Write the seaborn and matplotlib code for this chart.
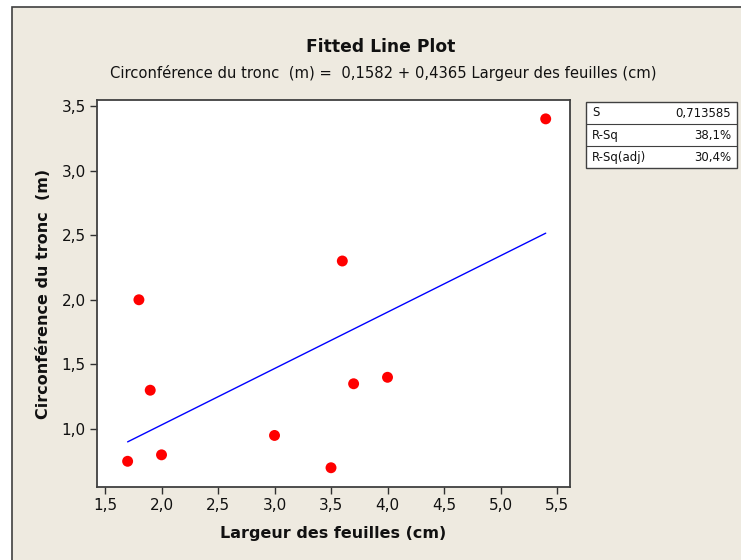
import matplotlib
matplotlib.use("Agg")
import matplotlib.pyplot as plt
from matplotlib.patches import Rectangle
from matplotlib.lines import Line2D
import numpy as np
import pandas as pd
import seaborn as sns

# Observations
largeur = [1.7, 1.8, 1.9, 2.0, 3.0, 3.5, 3.6, 3.7, 4.0, 5.4]
circonference = [0.75, 2.0, 1.3, 0.8, 0.95, 0.7, 2.3, 1.35, 1.4, 3.4]

# Regression results
intercept = 0.1582
slope = 0.4365
stats_labels = ["S", "R-Sq", "R-Sq(adj)"]
stats_values = ["0,713585", "38,1%", "30,4%"]

x_ticks = [1.5, 2.0, 2.5, 3.0, 3.5, 4.0, 4.5, 5.0, 5.5]
y_ticks = [1.0, 1.5, 2.0, 2.5, 3.0, 3.5]

sns.set_theme(style="white")
plt.rcParams["font.family"] = ["DejaVu Sans"]

W, H = 741, 560
fig = plt.figure(figsize=(W / 100, H / 100), dpi=100)
fig.patch.set_facecolor("white")

def px(x, y):
    return x / W, 1 - y / H

# Outer beige panel
x0, y0 = px(12, 7)
fig.patches.append(Rectangle((x0, -0.05), 1.1, y0 + 0.05, transform=fig.transFigure,
                             facecolor="#EEEAE0", edgecolor="#404040", linewidth=1.2,
                             zorder=-10))

ax = fig.add_axes([97 / W, 1 - 487 / H, (570 - 97) / W, (487 - 100) / H])
ax.set_zorder(1)
ax.set_facecolor("white")

df = pd.DataFrame({"x": largeur, "y": circonference})
sns.scatterplot(data=df, x="x", y="y", ax=ax, color="#FF0000", s=62,
                edgecolor="none", zorder=3)

xf = np.array([min(largeur), max(largeur)])
fit = pd.DataFrame({"x": xf, "y": intercept + slope * xf})
sns.lineplot(data=fit, x="x", y="y", ax=ax, color="#0000FF", linewidth=1.0, zorder=2)

ax.set_xlim(1.429, 5.615)
ax.set_ylim(0.551, 3.546)
ax.set_xticks(x_ticks)
ax.set_yticks(y_ticks)
ax.set_xticklabels([f"{v:.1f}".replace(".", ",") for v in x_ticks])
ax.set_yticklabels([f"{v:.1f}".replace(".", ",") for v in y_ticks])
ax.tick_params(axis="both", which="both", direction="out", length=5, width=1,
               color="#303030", labelsize=11, labelcolor="#111111", pad=3,
               bottom=True, left=True)
for s in ax.spines.values():
    s.set_color("#404040")
    s.set_linewidth(1.3)

ax.set_xlabel("Largeur des feuilles (cm)", fontsize=11.5, fontweight="bold",
              color="#111111", labelpad=9)
ax.set_ylabel("Circonférence du tronc  (m)", fontsize=11.5, fontweight="bold",
              color="#111111", labelpad=8)

tx, ty = px(381, 47)
fig.text(tx, ty, "Fitted Line Plot", ha="center", va="center", fontsize=12.3,
         fontweight="bold", color="#111111")
tx, ty = px(383, 73)
fig.text(tx, ty, "Circonférence du tronc  (m) =  0,1582 + 0,4365 Largeur des feuilles (cm)",
         ha="center", va="center", fontsize=10.6, color="#111111")

# Statistics box
bx0, bx1, by0, by1 = 586, 737, 102, 168
fx, fy = px(bx0, by1)
fig.patches.append(Rectangle((fx, fy), (bx1 - bx0) / W, (by1 - by0) / H,
                             transform=fig.transFigure, facecolor="white",
                             edgecolor="#404040", linewidth=1.0, zorder=1))
row_h = (by1 - by0) / 3
for i, (lab, val) in enumerate(zip(stats_labels, stats_values)):
    yc = by0 + row_h * (i + 0.5)
    lx, ly = px(bx0 + 6, yc)
    fig.text(lx, ly, lab, ha="left", va="center", fontsize=8.5, color="#111111")
    rx, ry = px(bx1 - 6, yc)
    fig.text(rx, ry, val, ha="right", va="center", fontsize=8.5, color="#111111")
    if i > 0:
        ly2 = 1 - (by0 + row_h * i) / H
        fig.lines.append(Line2D([bx0 / W, bx1 / W], [ly2, ly2], transform=fig.transFigure,
                                color="#404040", linewidth=0.8, zorder=2))

fig.savefig("out.png", dpi=100, facecolor=fig.get_facecolor())
